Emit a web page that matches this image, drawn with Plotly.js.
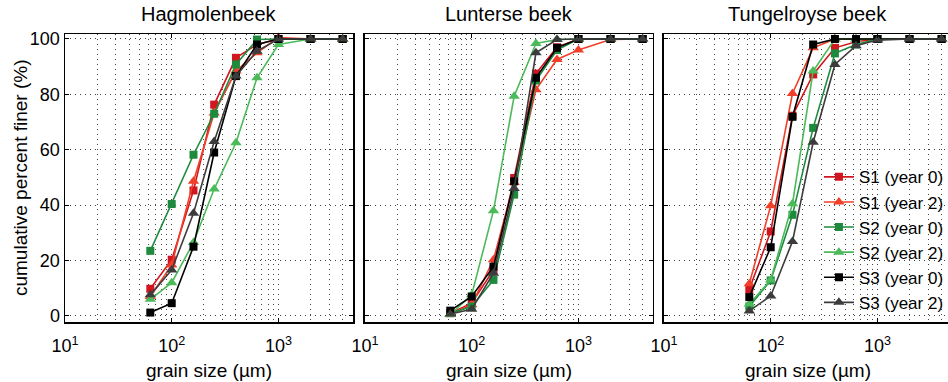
<!DOCTYPE html>
<html>
<head>
<meta charset="utf-8">
<script src="https://cdn.plot.ly/plotly-3.0.1.min.js"></script>
<style>html,body{margin:0;padding:0;overflow:hidden;background:#fff;}#chart{width:954px;height:382px;}</style>
</head>
<body>
<div id="chart"></div>
<script>
// ---- data ----
var grainSize = [63, 100, 160, 250, 400, 630, 1000, 2000, 4000];
var panels = ["Hagmolenbeek", "Lunterse beek", "Tungelroyse beek"];
var seriesNames = ["S1 (year 0)", "S1 (year 2)", "S2 (year 0)", "S2 (year 2)", "S3 (year 0)", "S3 (year 2)"];
var yTitle = "cumulative percent finer (%)";
var xTitle = "grain size (µm)";

// Hagmolenbeek
var hag_S1y0 = [9.8, 20.3, 45.3, 76.3, 93.2, 98.0, 100, 100, 100];
var hag_S1y2 = [7.0, 18.4, 48.6, 73.3, 88.4, 95.0, 100.5, 100, 100];
var hag_S2y0 = [23.5, 40.4, 58.2, 73.0, 90.8, 99.8, 100, 100, 100];
var hag_S2y2 = [6.0, 12.0, 26.5, 45.8, 62.5, 86.0, 98.0, 100, 100];
var hag_S3y0 = [1.2, 4.6, 25.0, 59.0, 86.6, 98.0, 100, 100, 100];
var hag_S3y2 = [7.6, 16.6, 37.1, 63.0, 86.6, 95.6, 100, 100, 100];

// Lunterse beek
var lun_S1y0 = [1.0, 4.6, 16.6, 49.8, 87.5, 97.0, 100, 100, 100];
var lun_S1y2 = [0.5, 4.0, 20.3, 48.2, 81.7, 92.6, 96.0, 99.8, 100];
var lun_S2y0 = [1.0, 3.4, 13.0, 43.8, 85.0, 96.0, 100, 100, 100];
var lun_S2y2 = [0.5, 7.6, 38.0, 79.3, 98.4, 99.8, 100, 100, 100];
var lun_S3y0 = [1.9, 7.0, 17.8, 48.6, 86.0, 96.8, 100, 100, 100];
var lun_S3y2 = [0.7, 2.4, 15.4, 46.0, 95.0, 99.8, 100, 100, 100];

// Tungelroyse beek
var tun_S1y0 = [9.6, 30.5, 72.3, 87.2, 96.8, 99.0, 100, 100, 100];
var tun_S1y2 = [11.6, 39.8, 80.3, 96.8, 100, 100, 100, 100, 100];
var tun_S2y0 = [3.4, 12.8, 36.5, 67.9, 94.8, 98.0, 100, 100, 100];
var tun_S2y2 = [4.3, 13.0, 40.5, 88.4, 100, 100, 100, 100, 100];
var tun_S3y0 = [6.8, 24.8, 71.9, 98.0, 100, 100, 100, 100, 100];
var tun_S3y2 = [1.8, 7.2, 26.9, 62.7, 90.8, 97.6, 99.6, 100, 100];

var xTickVals = [10, 100, 1000];
var xTickText = ["10<sup>1</sup>", "10<sup>2</sup>", "10<sup>3</sup>"];
var yTickVals = [0, 20, 40, 60, 80, 100];

// ---- styles ----
var colors = ["#d0161e", "#f0402a", "#1e8a3e", "#4cba5a", "#000000", "#3c3c3c"];
var symbols = ["square", "triangle-up", "square", "triangle-up", "square", "triangle-up"];
var msizes = [8, 10, 8, 10, 8, 10];

var panelData = [
  [hag_S1y0, hag_S1y2, hag_S2y0, hag_S2y2, hag_S3y0, hag_S3y2],
  [lun_S1y0, lun_S1y2, lun_S2y0, lun_S2y2, lun_S3y0, lun_S3y2],
  [tun_S1y0, tun_S1y2, tun_S2y0, tun_S2y2, tun_S3y0, tun_S3y2]
];

var traces = [];
for (var p = 0; p < 3; p++) {
  for (var s = 0; s < 6; s++) {
    traces.push({
      type: "scatter", mode: "lines+markers",
      x: grainSize, y: panelData[p][s],
      xaxis: p === 0 ? "x" : "x" + (p + 1),
      yaxis: p === 0 ? "y" : "y" + (p + 1),
      name: seriesNames[s],
      legendgroup: "g" + s,
      showlegend: p === 2,
      line: {color: colors[s], width: 1.6},
      marker: {color: colors[s], symbol: symbols[s], size: msizes[s]},
      cliponaxis: false
    });
  }
}

var minorVals = [];
[10, 100, 1000].forEach(function (d) { for (var k = 2; k <= 9; k++) { if (d * k <= 5000) minorVals.push(d * k); } });

var FONT = "Liberation Sans, Arial, Helvetica, sans-serif";
var domains = [[0, 0.3247], [0.3382, 0.6629], [0.6753, 1]];

function xaxisDef(i) {
  return {
    type: "log", range: [1, 3.699], domain: domains[i],
    anchor: i === 0 ? "y" : "y" + (i + 1),
    tickvals: xTickVals, ticktext: xTickText,
    ticks: "inside", ticklen: 4, tickcolor: "#000", tickwidth: 1,
    ticklabelstandoff: 7,
    showline: true, linecolor: "#000", linewidth: 1.5, mirror: "ticks",
    showgrid: true, gridcolor: "#444", gridwidth: 1, griddash: "1px,4px",
    minor: {tickvals: minorVals, showgrid: true, gridcolor: "#444", gridwidth: 1, griddash: "1px,4px", ticks: ""},
    zeroline: false,
    tickfont: {family: FONT, size: 18, color: "#000"},
    title: {text: xTitle, font: {family: FONT, size: 19, color: "#000"}, standoff: 8}
  };
}
function yaxisDef(i) {
  return {
    range: [-2.2, 101.8],
    anchor: i === 0 ? "x" : "x" + (i + 1),
    tickvals: yTickVals,
    ticks: "inside", ticklen: 4, tickcolor: "#000", tickwidth: 1,
    showline: true, linecolor: "#000", linewidth: 1.5, mirror: "ticks",
    showgrid: true, gridcolor: "#444", gridwidth: 1, griddash: "1px,4px",
    zeroline: false,
    showticklabels: i === 0,
    tickfont: {family: FONT, size: 18, color: "#000"}
  };
}

var annotations = panels.map(function (t, i) {
  return {text: t, xref: "paper", yref: "paper", x: (domains[i][0] + domains[i][1]) / 2, y: 1.0,
          yshift: 7, xanchor: "center", yanchor: "bottom", showarrow: false,
          font: {family: FONT, size: 20, color: "#000"}};
});
annotations.push({text: yTitle, xref: "paper", yref: "paper", x: -0.0507, y: 0.5,
                  xanchor: "center", yanchor: "middle", textangle: -90, showarrow: false,
                  font: {family: FONT, size: 19, color: "#000"}});

var layout = {
  width: 954, height: 382,
  margin: {l: 65, r: 2, t: 34, b: 60},
  paper_bgcolor: "#fff", plot_bgcolor: "#fff",
  font: {family: FONT, color: "#000"},
  showlegend: true,
  legend: {x: 0.85, y: 0.565, xanchor: "left", yanchor: "top", bgcolor: "rgba(255,255,255,0)",
           font: {family: FONT, size: 17, color: "#000"}, tracegroupgap: 0},
  annotations: annotations,
  xaxis: xaxisDef(0), xaxis2: xaxisDef(1), xaxis3: xaxisDef(2),
  yaxis: yaxisDef(0), yaxis2: yaxisDef(1), yaxis3: yaxisDef(2)
};

Plotly.newPlot("chart", traces, layout, {displayModeBar: false, staticPlot: true});
</script>
</body>
</html>
